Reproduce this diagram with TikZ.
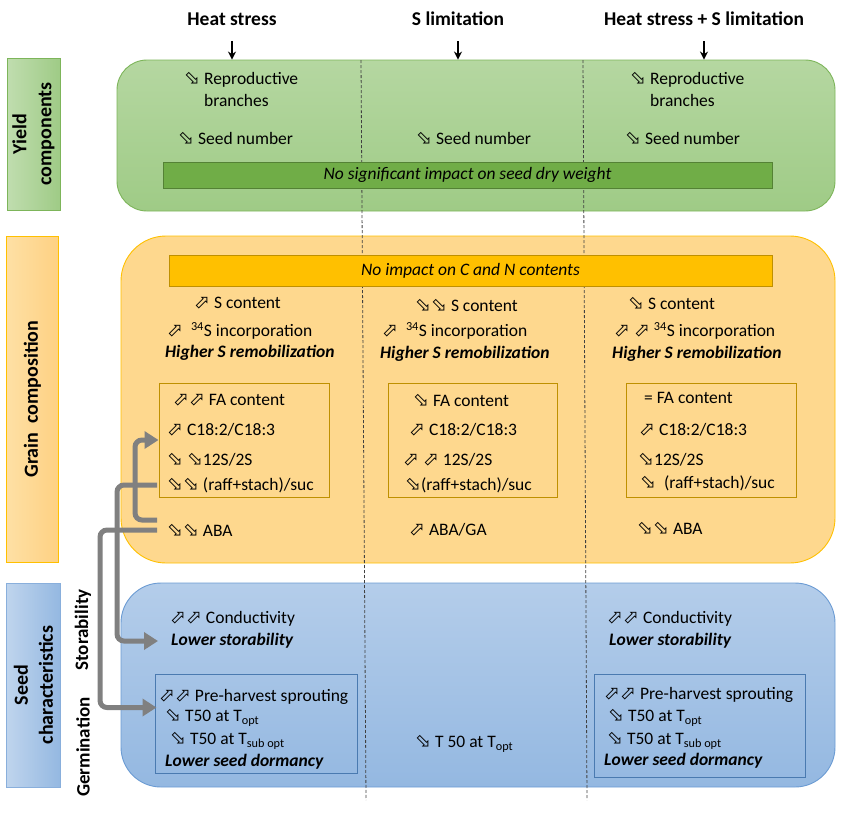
\documentclass[tikz,border=0pt]{standalone}
\usepackage{fontspec}
\setmainfont{Carlito}
\newfontfamily\symfont{DejaVu Sans}
\usetikzlibrary{arrows.meta, calc}

\definecolor{grnTop}{HTML}{B5D7A1}
\definecolor{grnBot}{HTML}{9FCB86}
\definecolor{grnLine}{HTML}{7DB55A}
\definecolor{grnBar}{HTML}{70AD47}
\definecolor{grnBarLine}{HTML}{548235}
\definecolor{orgFill}{HTML}{FED88E}
\definecolor{orgLine}{HTML}{FFC000}
\definecolor{orgDark}{HTML}{BF9000}
\definecolor{bluTop}{HTML}{B4CDEA}
\definecolor{bluBot}{HTML}{94B8E1}
\definecolor{bluLine}{HTML}{6B9BD3}
\definecolor{bluDark}{HTML}{4A7AB0}
\definecolor{flowGray}{HTML}{808080}

\newcommand{\arup}{{\symfont\fontsize{19}{14}\selectfont ⬀}}
\newcommand{\ardn}{{\symfont\fontsize{19}{14}\selectfont ⬂}}

\begin{document}
\begin{tikzpicture}[x=1pt, y=-1pt, >=Stealth,
	txt/.style={anchor=west, inner sep=1pt, align=left, font=\fontsize{17.5}{22}\selectfont},
	hl/.style={txt, font=\fontsize{17.5}{22}\selectfont\bfseries\itshape},
	head/.style={font=\fontsize{19.5}{22}\selectfont\bfseries},
	headarr/.style={-{Stealth[length=8pt, width=8pt]}, line width=1.6pt},
	lab/.style={rotate=90, align=center, line width=0.8pt, font=\fontsize{20}{25}\selectfont\bfseries},
	side/.style={rotate=90, font=\fontsize{19}{22}\selectfont\bfseries},
	panel/.style={line width=0.9pt},
	bar/.style={line width=1pt, inner sep=0pt, font=\fontsize{17.5}{22}\selectfont\itshape},
	fabox/.style={draw=orgDark, line width=1pt},
	germbox/.style={draw=bluDark, line width=1pt},
	divider/.style={dash pattern=on 3pt off 2pt, line width=0.8pt, black!75},
	flow/.style={-{Triangle[length=14pt, width=17pt]}, line width=5pt, flowGray, rounded corners=7pt}]

	\useasboundingbox (0,0) rectangle (851,815);

	% column heads
	\node[head] (hHS) at (232,19) {Heat stress};
	\node[head] (hSL) at (458,19) {S limitation};
	\node[head] (hHSL) at (704,19) {Heat stress + S limitation};

	% row labels
	\node[lab, draw=grnLine, left color=grnTop!85!white, right color=grnBot,
		minimum width=152pt, minimum height=53pt] (yieldLab) at (33.5,134) {Yield\\components};
	\node[lab, draw=orgLine, left color=orgFill!80!white, right color=orgFill!92!orange,
		minimum width=326pt, minimum height=52pt] (grainLab) at (32.5,399) {Grain\ \ composition};
	\node[lab, draw=bluLine!80, left color=bluTop!85!white, right color=bluBot,
		minimum width=204pt, minimum height=54pt] (seedLab) at (33.5,685) {Seed\\characteristics};
	\node[side] (storLab) at (83,630) {Storability};
	\node[side] (germLab) at (83,747) {Germination};

	% panels
	\node[panel, draw=grnLine, top color=grnTop, bottom color=grnBot, rounded corners=30pt,
		minimum width=718pt, minimum height=151pt] (yieldBox) at (476,135.5) {};
	\node[panel, draw=orgLine, fill=orgFill, rounded corners=45pt,
		minimum width=714pt, minimum height=327pt] (grainBox) at (478,399.5) {};
	\node[panel, draw=bluLine, top color=bluTop, bottom color=bluBot, rounded corners=40pt,
		minimum width=714pt, minimum height=204pt] (seedBox) at (478,685) {};

	\foreach \h in {hHS,hSL,hHSL}
		\draw[headarr] ([yshift=-12pt]\h.south) -- (\h.south |- yieldBox.north);

	\draw[divider] (361,60) -- (366,800);
	\draw[divider] (583,60) -- (587,800);

	\node[bar, fill=grnBar, draw=grnBarLine, minimum width=609pt, minimum height=26pt]
		(yieldBar) at (467.5,175) {No significant impact on seed dry weight};
	\node[bar, fill=orgLine, draw=orgDark, minimum width=603pt, minimum height=31pt]
		(cnBar) at (470.5,271) {No impact on C and N contents};

	% yield components
	\node[txt] (hsRep) at (183,89) {\ardn\ Reproductive\\\phantom{\ardn\ }branches};
	\node[txt] (hsSeed) at (177,138) {\ardn\ Seed number};
	\node[txt] (slSeed) at (415,138) {\ardn\ Seed number};
	\node[txt] (hslRep) at (629,89) {\ardn\ Reproductive\\\phantom{\ardn\ }branches};
	\node[txt] (hslSeed) at (624,138) {\ardn\ Seed number};

	% grain composition
	\node[fabox, minimum width=170pt, minimum height=114pt] (hsFAbox) at (244,440) {};
	\node[fabox, minimum width=169pt, minimum height=114pt] (slFAbox) at (472.5,440) {};
	\node[fabox, minimum width=170pt, minimum height=114pt] (hslFAbox) at (711,440) {};

	\node[txt] (hsS) at (193,303) {\arup\ S content};
	\node[txt] (hs34) at (166,331) {\arup\ \ \textsuperscript{34}S incorporation};
	\node[hl] (hsRemob) at (164,353) {Higher S remobilization};
	\node[txt] (hsFA) at (172,400) {\arup\arup\ FA content};
	\node[txt] (hsC18) at (166,430) {\arup\ C18:2/C18:3};
	\node[txt] (hs12S) at (166,460) {\ardn\ \ardn12S/2S};
	\node[txt] (hsRaff) at (166,485) {\ardn\ardn\ (raff+stach)/suc};
	\node[txt] (hsABA) at (166,530) {\ardn\ardn\ ABA};

	\node[txt] (slS) at (414,305) {\ardn\ardn\ S content};
	\node[txt] (sl34) at (381,331) {\arup\ \ \textsuperscript{34}S incorporation};
	\node[hl] (slRemob) at (379,354) {Higher S remobilization};
	\node[txt] (slFA) at (412,400) {\ardn\ FA content};
	\node[txt] (slC18) at (408,430) {\arup\ C18:2/C18:3};
	\node[txt] (sl12S) at (402,460) {\arup\ \arup\ 12S/2S};
	\node[txt] (slRaff) at (404,485) {\ardn(raff+stach)/suc};
	\node[txt] (slABA) at (408,530) {\arup\ ABA/GA};

	\node[txt] (hslS) at (627,303) {\ardn\ S content};
	\node[txt] (hsl34) at (613,331) {\arup\ \arup\ \textsuperscript{34}S incorporation};
	\node[hl] (hslRemob) at (611,354) {Higher S remobilization};
	\node[txt] (hslFA) at (643,398) {= FA content};
	\node[txt] (hslC18) at (638,430) {\arup\ C18:2/C18:3};
	\node[txt] (hsl12S) at (637,460) {\ardn12S/2S};
	\node[txt] (hslRaff) at (639,483) {\ardn\ \ (raff+stach)/suc};
	\node[txt] (hslABA) at (636,528) {\ardn\ardn\ ABA};

	% seed characteristics
	\node[germbox, minimum width=202pt, minimum height=99pt] (hsGermBox) at (256,723.5) {};
	\node[germbox, minimum width=211pt, minimum height=103pt] (hslGermBox) at (699.5,725.5) {};

	\node[txt] (hsCond) at (169,619) {\arup\arup\ Conductivity};
	\node[hl] (hsLowStor) at (170,641) {Lower storability};
	\node[txt] (hsPre) at (158,697) {\arup\arup\ Pre-harvest sprouting};
	\node[txt] (hsTopt) at (164,718) {\ardn\ T50 at T\textsubscript{opt}};
	\node[txt] (hsTsub) at (169,741) {\ardn\ T50 at T\textsubscript{sub opt}};
	\node[hl] (hsLowDorm) at (164,762) {Lower seed dormancy};

	\node[txt] (slTopt) at (414,744) {\ardn\ T 50 at T\textsubscript{opt}};

	\node[txt] (hslCond) at (606,619) {\arup\arup\ Conductivity};
	\node[hl] (hslLowStor) at (608,641) {Lower storability};
	\node[txt] (hslPre) at (603,695) {\arup\arup\ Pre-harvest sprouting};
	\node[txt] (hslTopt) at (607,718) {\ardn\ T50 at T\textsubscript{opt}};
	\node[txt] (hslTsub) at (606,741) {\ardn\ T50 at T\textsubscript{sub opt}};
	\node[hl] (hslLowDorm) at (603,761) {Lower seed dormancy};

	% links from grain composition to seed traits
	\draw[flow] ([xshift=-9pt, yshift=10pt]hsABA.west) -- ++(-22,0) |- (hsFAbox.west);
	\draw[flow] ([xshift=-9pt]hsRaff.west) -- ++(-40,0) |- ([xshift=-12pt]hsLowStor.west);
	\draw[flow] ([xshift=-9pt]hsABA.west) -- ++(-57,0) |- ($(hsGermBox.west)+(2,-16)$);

\end{tikzpicture}
\end{document}
